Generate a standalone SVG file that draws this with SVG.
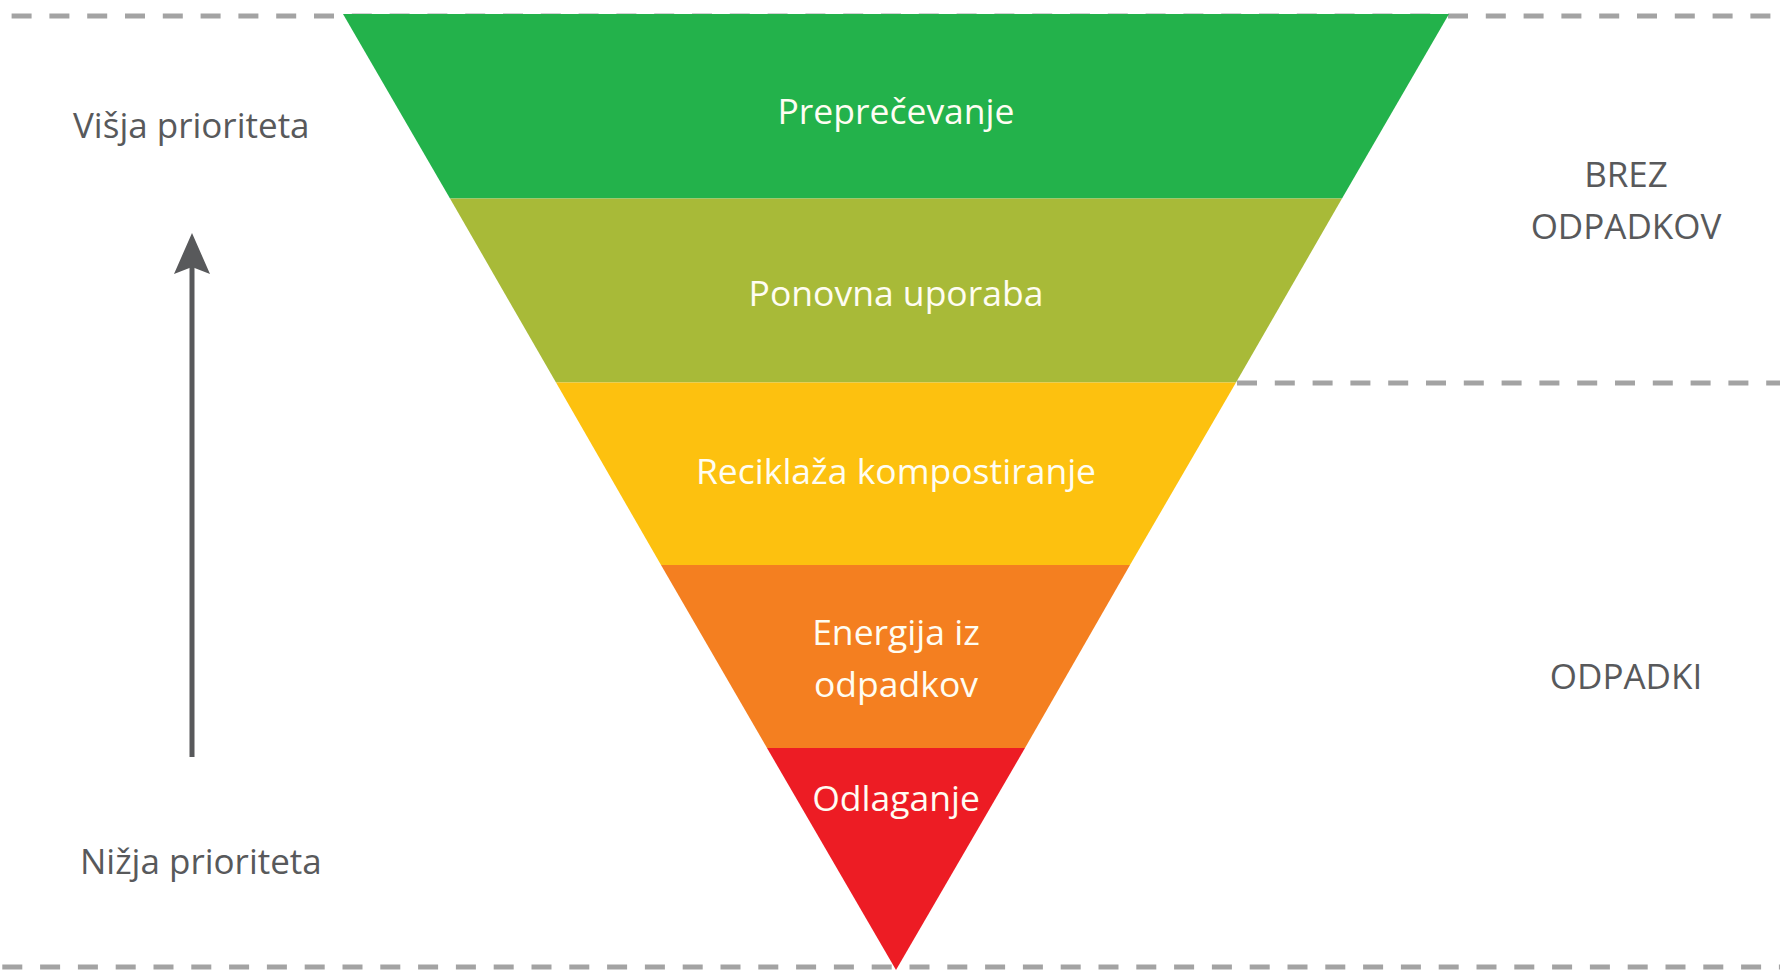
<svg xmlns="http://www.w3.org/2000/svg" width="1780" height="974" viewBox="0 0 1780 974">
<style>
.dash{stroke:#a3a3a3;stroke-width:5;fill:none;stroke-dasharray:20 17.8}
.band text,.lbl{font-family:"Open Sans","Noto Sans",sans-serif}
.band text{fill:#fffdf2;text-anchor:middle;font-size:35.5px}
.lbl{fill:#58595b;font-size:35px}
.mid{text-anchor:middle}
</style>
<rect width="1780" height="974" fill="#ffffff"/>
<g id="connectors">
<line class="dash" x1="0" y1="16" x2="1780" y2="16" stroke-dashoffset="26.2"/>
<line class="dash" x1="1237" y1="383" x2="1780" y2="383"/>
<line class="dash" x1="0" y1="967" x2="1780" y2="967" stroke-dashoffset="35.5"/>
<line x1="192" y1="757" x2="192" y2="262" stroke="#58595b" stroke-width="5"/>
<path d="M192,233 L210,274 L192,267 L174,274 Z" fill="#58595b"/>
</g>
<g id="preprecevanje" class="band">
<polygon points="343,14 1449,14 1342,198.5 450,198.5" fill="#23b24b"/>
<text x="896" y="124">Preprečevanje</text>
</g>
<g id="ponovna-uporaba" class="band">
<polygon points="450,198.5 1342,198.5 1236,382.5 556,382.5" fill="#a8ba38"/>
<text x="896" y="306">Ponovna uporaba</text>
</g>
<g id="reciklaza" class="band">
<polygon points="556,382.5 1236,382.5 1130,565 661,565" fill="#fdc10f"/>
<text x="896" y="484">Reciklaža kompostiranje</text>
</g>
<g id="energija" class="band">
<polygon points="661,565 1130,565 1025,748 767,748" fill="#f47f20"/>
<text x="896" y="645">Energija iz</text>
<text x="896" y="697">odpadkov</text>
</g>
<g id="odlaganje" class="band">
<polygon points="767,748 1025,748 896,970" fill="#ed1c24"/>
<text x="896" y="811">Odlaganje</text>
</g>
<g id="labels">
<text class="lbl" x="73" y="138">Višja prioriteta</text>
<text class="lbl" x="80" y="874">Nižja prioriteta</text>
<text class="lbl mid" x="1626" y="187">BREZ</text>
<text class="lbl mid" x="1626" y="239">ODPADKOV</text>
<text class="lbl mid" x="1626" y="689">ODPADKI</text>
</g>
</svg>
